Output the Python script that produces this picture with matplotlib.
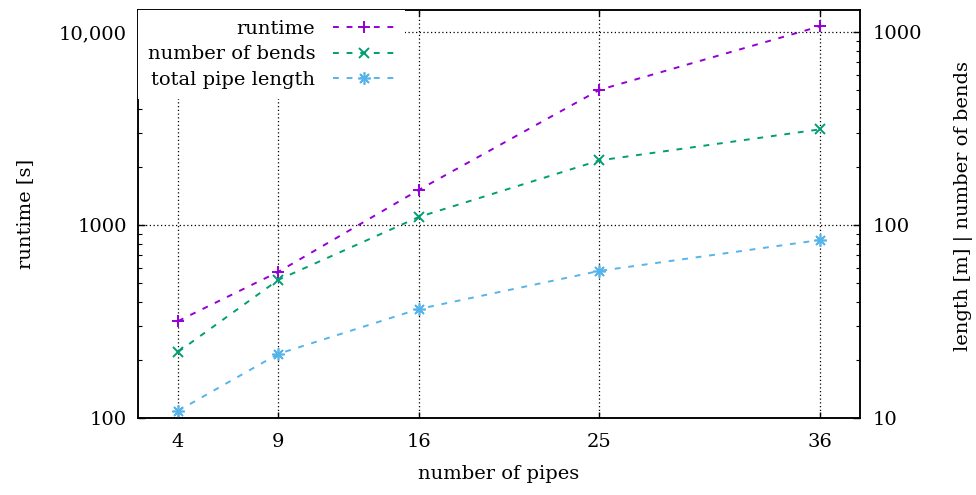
import matplotlib
matplotlib.use('Agg')
import matplotlib.pyplot as plt
from matplotlib.ticker import FixedLocator, FixedFormatter, LogLocator, NullFormatter

# data
pipes = [4, 9, 16, 25, 36]
runtime = [318, 572, 1520, 5010, 10700]
bends = [22, 52, 110, 216, 313]
length = [10.9, 21.5, 36.7, 57.8, 83.6]

left_ticks = [100, 1000, 10000]
left_labels = ['100', '1000', '10,000']
right_ticks = [10, 100, 1000]
right_labels = ['10', '100', '1000']

plt.rcParams['font.family'] = ['DejaVu Serif']
plt.rcParams['font.size'] = 14

fig = plt.figure(figsize=(9.76, 4.95), dpi=100)
ax = fig.add_axes([138/976, 1 - 418/495, (860-138)/976, (418-10)/495])
ax2 = ax.twinx()

ls = (0, (3, 4))
l1, = ax.plot(pipes, runtime, color='#9400d3', ls=ls, lw=1.4, marker='+', ms=8, mew=1.4,
              label='runtime')
l2, = ax2.plot(pipes, bends, color='#009e73', ls=ls, lw=1.4, marker='x', ms=7, mew=1.4,
               label='number of bends')
l3, = ax2.plot(pipes, length, color='#56b4e9', ls=ls, lw=1.4, marker=(8, 2, 0), ms=9, mew=1.2,
               label='total pipe length')

ax.set_xlim(2, 38)
ax.set_yscale('log')
ax.set_ylim(100, 10**(2 + 408/193))
ax2.set_yscale('log')
ax2.set_ylim(10, 10**(1 + 408/193))

ax.xaxis.set_major_locator(FixedLocator(pipes))
ax.yaxis.set_major_locator(FixedLocator(left_ticks))
ax.yaxis.set_major_formatter(FixedFormatter(left_labels))
ax.yaxis.set_minor_locator(LogLocator(base=10, subs=range(2, 10)))
ax.yaxis.set_minor_formatter(NullFormatter())
ax2.yaxis.set_major_locator(FixedLocator(right_ticks))
ax2.yaxis.set_major_formatter(FixedFormatter(right_labels))
ax2.yaxis.set_minor_locator(LogLocator(base=10, subs=range(2, 10)))
ax2.yaxis.set_minor_formatter(NullFormatter())

ax.tick_params(axis='x', which='both', direction='in', top=True, length=4, width=1, pad=11)
ax.tick_params(axis='y', which='major', direction='in', right=False, length=5, width=1, pad=8)
ax.tick_params(axis='y', which='minor', direction='in', right=False, length=3, width=0.8)
ax2.tick_params(axis='y', which='major', direction='in', length=5, width=1, pad=9)
ax2.tick_params(axis='y', which='minor', direction='in', length=3, width=0.8)

ax.grid(True, which='major', color='black', ls=(0, (1, 2)), lw=0.9)

for a in (ax, ax2):
    for s in a.spines.values():
        s.set_linewidth(1.1)

ax.set_xlabel('number of pipes', labelpad=10)
ax.set_ylabel('runtime [s]', labelpad=18)
ax2.set_ylabel('length [m] | number of bends')
ax2.yaxis.set_label_coords(1.13, 0.52)

leg = ax2.legend(handles=[l1, l2, l3], loc='upper left', bbox_to_anchor=(0, 1),
                 markerfirst=False, numpoints=1, handlelength=3.2, handletextpad=0.9,
                 labelspacing=0.4, borderaxespad=0, borderpad=0.5,
                 frameon=True, fancybox=False, framealpha=1, edgecolor='none')
leg.set_zorder(5)

fig.savefig('out.png', dpi=100)
